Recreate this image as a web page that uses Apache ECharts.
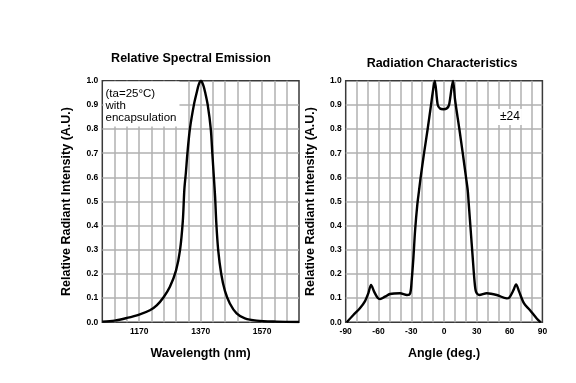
<!DOCTYPE html>
<html>
<head>
<meta charset="utf-8">
<script src="https://cdn.jsdelivr.net/npm/echarts@6/dist/echarts.min.js"></script>
<style>html,body{margin:0;padding:0;background:#fff}#c{width:576px;height:383px}</style>
</head>
<body>
<div id="c"></div>
<script>
// ---- data ----
var wavelengths = [1050,1090,1130,1170,1205,1227,1250,1270,1290,1303,1312,1317,1322,1327,1335,1348,1357,1364,1371,1379,1385,1393,1403,1408,1413,1417,1421,1427,1437,1449,1465,1487,1514,1552,1617,1690];
var spectralIntensity = [0.003,0.007,0.018,0.032,0.05,0.07,0.105,0.147,0.215,0.30,0.42,0.55,0.62,0.70,0.80,0.90,0.95,0.985,1.0,0.98,0.95,0.90,0.80,0.70,0.60,0.52,0.41,0.30,0.20,0.13,0.078,0.037,0.016,0.007,0.003,0.001];
var angles = [-89,-83,-77,-72.3,-69.3,-66.8,-64,-61,-58.6,-54,-49.4,-40.3,-34,-31,-29.6,-28,-26.5,-24.4,-22.9,-21.4,-18.3,-15,-11.9,-10.4,-8.5,-5.8,-3.7,-0.6,2.4,4.6,8.2,10.1,14,17.1,20.1,21.7,22.6,24.4,26.2,27.8,29.3,32.3,39.1,48.2,57.4,59.8,63.5,65.9,68.7,73.2,78.7,84.8,88.5];
var radiationIntensity = [0.0,0.03,0.058,0.088,0.12,0.155,0.127,0.103,0.096,0.106,0.117,0.12,0.113,0.12,0.175,0.27,0.38,0.49,0.545,0.6,0.7,0.8,0.9,0.95,1.0,0.9,0.885,0.882,0.885,0.9,1.0,0.92,0.8,0.7,0.6,0.545,0.49,0.38,0.27,0.175,0.126,0.113,0.12,0.113,0.099,0.103,0.133,0.157,0.127,0.078,0.05,0.016,0.0];
var wavelengthTickLabels = [1170,1370,1570];
var angleTickLabels = [-90,-60,-30,0,30,60,90];
var titles = ['Relative Spectral Emission','Radiation Characteristics'];
var yName = 'Relative Radiant Intensity (A.U.)';
var xNames = ['Wavelength (nm)','Angle (deg.)'];
var noteLeft = '(ta=25°C)\nwith\nencapsulation';
var noteRight = '±24';

var FONT = "'Liberation Sans', Arial, sans-serif";
var chart = echarts.init(document.getElementById('c'), null, {renderer:'canvas'});

function pair(xs, ys){ return xs.map(function(x,i){return [x, ys[i]];}); }

var gridCommon = {top:80.7, bottom:60.7, show:true, borderColor:'#3a3a3a', borderWidth:1.5, backgroundColor:'transparent'};
function yAxis(idx){
  return {
    type:'value', gridIndex:idx, min:0, max:1, interval:0.1,
    name:yName, nameLocation:'middle', nameGap:29,
    nameTextStyle:{fontFamily:FONT, fontWeight:'bold', fontSize:12.5, color:'#000'},
    axisLine:{show:false}, axisTick:{show:false},
    axisLabel:{fontFamily:FONT, fontWeight:'bold', fontSize:8.5, color:'#000', margin:4,
      formatter:function(v){return v.toFixed(1);}},
    splitLine:{show:true, showMinLine:false, showMaxLine:false, lineStyle:{color:'#b0b0b0', width:1.5}}
  };
}
function xAxis(idx, min, max, interval, labels, name){
  return {
    type:'value', gridIndex:idx, min:min, max:max, interval:interval,
    name:name, nameLocation:'middle', nameGap:25,
    nameTextStyle:{fontFamily:FONT, fontWeight:'bold', fontSize:12.5, color:'#000'},
    axisLine:{show:false}, axisTick:{show:false},
    axisLabel:{fontFamily:FONT, fontWeight:'bold', fontSize:8.5, color:'#000', margin:5,
      showMinLabel:true, showMaxLabel:true,
      formatter:function(v){ return labels.indexOf(Math.round(v))>=0 ? String(Math.round(v)) : ''; }},
    splitLine:{show:true, showMinLine:false, showMaxLine:false, lineStyle:{color:'#b0b0b0', width:1.5}}
  };
}

var option = {
  backgroundColor:'#fff',
  animation:false,
  title:[
    {text:titles[0], left:191, top:52, textAlign:'center', padding:0,
     textStyle:{fontFamily:FONT, fontWeight:'bold', fontSize:12.5, color:'#000'}},
    {text:titles[1], left:442, top:57, textAlign:'center', padding:0,
     textStyle:{fontFamily:FONT, fontWeight:'bold', fontSize:12.5, color:'#000'}},
    {text:noteLeft, left:103.5, top:81.5, padding:[6.5,3,3,2], backgroundColor:'#fff',
     textStyle:{fontFamily:FONT, fontWeight:'normal', fontSize:11.5, lineHeight:11.8, color:'#000'}},
    {text:noteRight, left:498, top:109, padding:[2,2,2,2], backgroundColor:'#fff',
     textStyle:{fontFamily:FONT, fontWeight:'normal', fontSize:12, color:'#000'}}
  ],
  grid:[
    Object.assign({left:102.3, width:196.7}, gridCommon),
    Object.assign({left:345.7, width:196.7}, gridCommon)
  ],
  xAxis:[
    xAxis(0, 1050, 1690, 40, wavelengthTickLabels, xNames[0]),
    xAxis(1, -90, 90, 10, angleTickLabels, xNames[1])
  ],
  yAxis:[yAxis(0), yAxis(1)],
  series:[
    {type:'line', xAxisIndex:0, yAxisIndex:0, data:pair(wavelengths, spectralIntensity),
     showSymbol:false, smooth:0.3, lineStyle:{color:'#000', width:2.4}, z:5},
    {type:'line', xAxisIndex:1, yAxisIndex:1, data:pair(angles, radiationIntensity),
     showSymbol:false, smooth:0.3, lineStyle:{color:'#000', width:2.4}, z:5}
  ]
};
chart.setOption(option);
</script>
</body>
</html>
